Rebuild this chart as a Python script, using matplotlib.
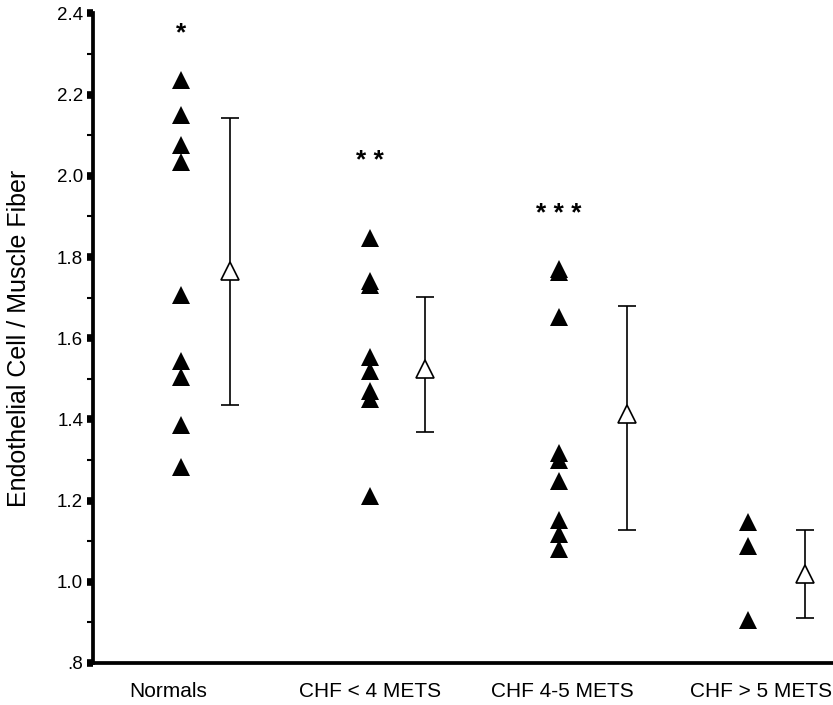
import matplotlib
matplotlib.use('Agg')
import matplotlib.pyplot as plt
from matplotlib.ticker import MultipleLocator

plt.rcParams['font.family'] = ['Liberation Sans', 'DejaVu Sans']

# Data
groups = ['Normals', 'CHF < 4 METS', 'CHF 4-5 METS', 'CHF > 5 METS']
normals = [2.237, 2.151, 2.076, 2.035, 1.706, 1.545, 1.504, 1.386, 1.284]
chf_lt4 = [1.848, 1.741, 1.731, 1.554, 1.519, 1.470, 1.450, 1.211]
chf_45 = [1.770, 1.763, 1.653, 1.317, 1.300, 1.248, 1.152, 1.118, 1.081]
chf_gt5 = [1.148, 1.088, 0.905]
means = [1.766, 1.524, 1.413, 1.018]
upper = [2.143, 1.701, 1.679, 1.128]
lower = [1.435, 1.370, 1.128, 0.910]
stars = ['*', '* *', '* * *', '']
star_y = [2.350, 2.037, 1.906, None]

individual = [normals, chf_lt4, chf_45, chf_gt5]

# layout
mean_offset = [0.26, 0.29, 0.36, 0.30]
label_pos = [-0.07, 1.0, 2.02, 3.07]

fig = plt.figure(figsize=(8.33, 7.05), dpi=100)
ax = fig.add_axes([0.1116, 0.0596, 0.8884, 0.9213])

for i, vals in enumerate(individual):
    ax.plot([i] * len(vals), vals, linestyle='none', marker='^',
            markersize=12.5, color='black', markeredgewidth=0)
    xm = i + mean_offset[i]
    ax.errorbar(xm, means[i],
                yerr=[[means[i] - lower[i]], [upper[i] - means[i]]],
                fmt='none', ecolor='black', elinewidth=1.2,
                capsize=6.5, capthick=1.2)
    ax.plot(xm, means[i], linestyle='none', marker='^', markersize=13,
            markerfacecolor='white', markeredgecolor='black',
            markeredgewidth=1.2, zorder=5)
    if stars[i]:
        ax.text(i, star_y[i], stars[i], ha='center', va='center',
                fontsize=19, fontweight='bold')

ax.set_xlim(-0.466, 3.45)
ax.set_ylim(0.8, 2.4)

ax.yaxis.set_major_locator(MultipleLocator(0.2))
ax.yaxis.set_minor_locator(MultipleLocator(0.1))
ax.set_yticks([0.8, 1.0, 1.2, 1.4, 1.6, 1.8, 2.0, 2.2, 2.4])
ax.set_yticklabels(['.8', '1.0', '1.2', '1.4', '1.6', '1.8', '2.0', '2.2', '2.4'])
ax.tick_params(axis='y', which='major', length=4, width=5.5, pad=3,
               labelsize=13.5, direction='out')
ax.tick_params(axis='y', which='minor', length=4, width=1.5, direction='out')

ax.set_xticks(label_pos)
ax.set_xticklabels(groups)
ax.tick_params(axis='x', length=0, pad=13.5, labelsize=15)

ax.spines['top'].set_visible(False)
ax.spines['right'].set_visible(False)
ax.spines['left'].set_linewidth(2.7)
ax.spines['bottom'].set_linewidth(2.7)

ax.set_ylabel('Endothelial Cell / Muscle Fiber', fontsize=18)
ax.yaxis.set_label_coords(-0.084, 0.5)

fig.savefig('out.png', dpi=100)
